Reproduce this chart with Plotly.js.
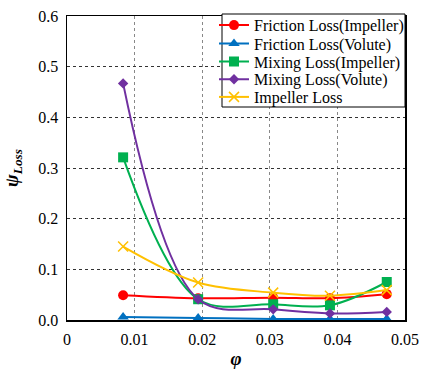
<!DOCTYPE html>
<html><head><meta charset="utf-8">
<script src="https://cdn.plot.ly/plotly-3.0.1.min.js"></script>
<style>body{margin:0;background:#fff}#c{width:422px;height:369px}</style>
</head><body><div id="c"></div>
<script>
const phi = [0.0083, 0.0194, 0.0305, 0.0389, 0.0473];
const frictionImpeller = [0.049, 0.043, 0.044, 0.043, 0.051];
const frictionVolute = [0.006, 0.004, 0.002, 0.002, 0.002];
const mixingImpeller = [0.321, 0.041, 0.031, 0.029, 0.075];
const mixingVolute = [0.467, 0.041, 0.021, 0.013, 0.016];
const impellerLoss = [0.145, 0.074, 0.054, 0.048, 0.059];
const names = ['Friction Loss(Impeller)','Friction Loss(Volute)','Mixing Loss(Impeller)','Mixing Loss(Volute)','Impeller Loss'];
const xTicks = [0, 0.01, 0.02, 0.03, 0.04, 0.05];
const xTickText = ['0','0.01','0.02','0.03','0.04','0.05'];
const yTicks = [0, 0.1, 0.2, 0.3, 0.4, 0.5, 0.6];
const yTickText = ['0.0','0.1','0.2','0.3','0.4','0.5','0.6'];

const series = [frictionImpeller, frictionVolute, mixingImpeller, mixingVolute, impellerLoss];
const colors = ['#FF0000','#0070C0','#00B050','#7030A0','#FFC000'];
const symbols = ['circle','triangle-up','square','diamond','x-thin'];
const sizes = [10,10,10,8,10];
const legendIds = ['legend','legend2','legend3','legend4','legend5'];
const traces = series.map((s,i)=>({
  x: phi, y: s, name: names[i], type:'scatter', mode:'lines+markers', legend: legendIds[i],
  line:{color:colors[i], width:2, shape:'spline', smoothing:1},
  marker:{color:colors[i], symbol:symbols[i], size:sizes[i], line:{color:colors[i], width: i===4?1.5:0}}
}));
const font = {family:'"Liberation Serif", "Times New Roman", serif', color:'#000'};
const plotTop = 16, plotBottom = 320, plotH = plotBottom - plotTop;
const legendTopsPx = [8.2, 26.5, 44.5, 62.3, 80.0];
const layout = {
  width:422, height:369,
  margin:{l:67, r:17, t:16, b:49, autoexpand:false},
  paper_bgcolor:'#fff', plot_bgcolor:'#fff',
  font:Object.assign({size:16}, font),
  showlegend:true,
  xaxis:{range:[0,0.05], tickvals:xTicks, ticktext:xTickText, showgrid:true, gridcolor:'#888', griddash:'dot', gridwidth:1.2,
    showline:true, linecolor:'#000', linewidth:1.5, mirror:true, zeroline:false, ticks:'', ticklen:0, ticklabelstandoff:4,
    tickfont:Object.assign({size:16}, font),
    title:{text:'<b><i>φ</i></b>', font:Object.assign({size:19}, font), standoff:10}},
  yaxis:{range:[0,0.6], tickvals:yTicks, ticktext:yTickText, showgrid:true, gridcolor:'#333', griddash:'dot', gridwidth:1,
    showline:true, linecolor:'#000', linewidth:1.5, mirror:true, zeroline:false, ticks:'', ticklen:0, ticklabelstandoff:4,
    tickfont:Object.assign({size:16}, font),
    title:{text:'<b><i>ψ<sub>Loss</sub></i></b>', font:Object.assign({size:19}, font), standoff:14}},
  shapes:[{type:'rect', xref:'paper', yref:'paper', layer:'above',
    x0:(222-67)/338, x1:1, y0:(plotBottom-107)/plotH, y1:(plotBottom-14)/plotH,
    fillcolor:'#fff', line:{color:'#000', width:1}}]
};
legendIds.forEach((id,i)=>{
  layout[id] = {x:(214-67)/338, xanchor:'left', y:(plotBottom-legendTopsPx[i])/plotH, yanchor:'top',
    bgcolor:'rgba(0,0,0,0)', borderwidth:0, font:Object.assign({size:16}, font), itemwidth:30};
});
Plotly.newPlot('c', traces, layout, {displayModeBar:false, staticPlot:true});
</script></body></html>
